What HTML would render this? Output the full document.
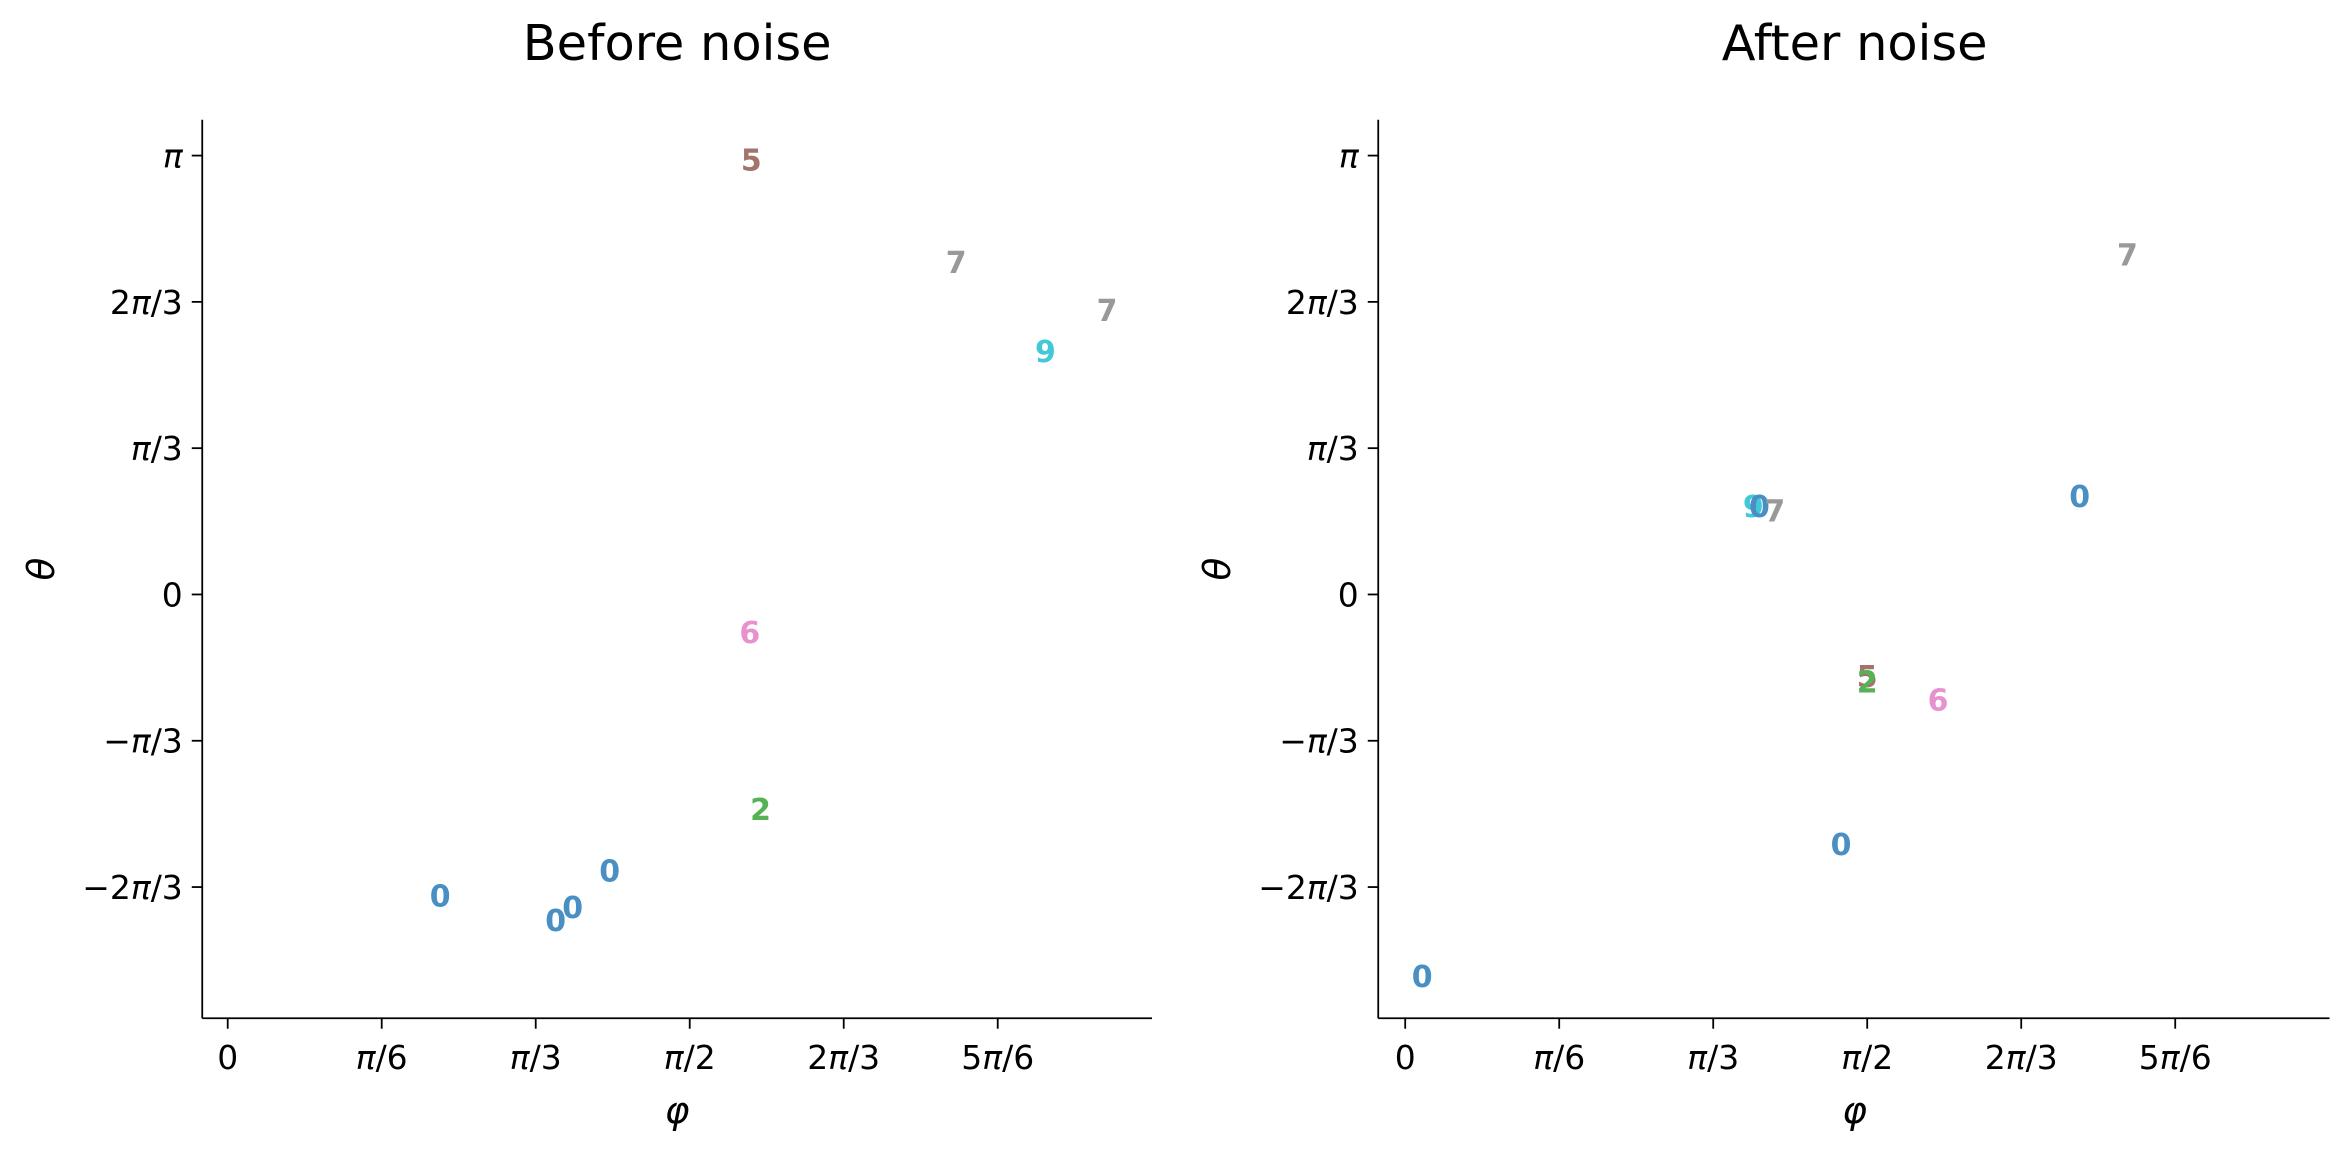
<!DOCTYPE html>
<html><head><meta charset="utf-8"><style>
html,body{margin:0;padding:0;background:#fff;}
svg text{font-family:"DejaVu Sans","Liberation Sans",sans-serif;}
</style></head><body>
<svg id="chart" width="2349" height="1150" viewBox="0 0 1568 768" preserveAspectRatio="none" xmlns="http://www.w3.org/2000/svg"></svg>
<script>
// values in units: x in π/6, y in π/3
const panelTitles = ["Before noise", "After noise"];
const xTickLabels = ["0", "π/6", "π/3", "π/2", "2π/3", "5π/6"];
const yTickLabels = ["π", "2π/3", "π/3", "0", "−π/3", "−2π/3"];
const yTickValues = [3, 2, 1, 0, -1, -2];
const beforeLabels = ["5", "7", "7", "9", "6", "2", "0", "0", "0", "0"];
const beforeX = [3.40, 4.73, 5.71, 5.31, 3.39, 3.46, 2.48, 1.38, 2.24, 2.13];
const beforeY = [2.97, 2.27, 1.94, 1.66, -0.26, -1.47, -1.89, -2.06, -2.14, -2.23];
const afterLabels = ["7", "0", "9", "0", "7", "5", "2", "6", "0", "0"];
const afterX = [4.69, 4.38, 2.26, 2.30, 2.40, 3.00, 3.00, 3.46, 2.83, 0.11];
const afterY = [2.32, 0.67, 0.60, 0.60, 0.57, -0.56, -0.60, -0.72, -1.71, -2.61];
const colors = {"0":"#4a8fc4","2":"#55b255","5":"#a3746b","6":"#e891cf","7":"#999999","9":"#42c9d8"};

const NS = "http://www.w3.org/2000/svg";
const svg = document.getElementById("chart");
function mk(tag, attrs, parent){const e=document.createElementNS(NS,tag);for(const k in attrs)e.setAttribute(k,attrs[k]);(parent||svg).appendChild(e);return e;}
function fillLabel(el, lab){
  lab.split(/(π)/).forEach(part => {
    if(!part) return;
    const ts = mk("tspan", part === "π" ? {"font-style":"italic"} : {}, el);
    ts.textContent = part;
  });
}

const panels = [{x0:152, left:135, right:769, cx:452, xs:beforeX, ys:beforeY, ls:beforeLabels},
                {x0:938, left:920, right:1555, cx:1238, xs:afterX, ys:afterY, ls:afterLabels}];
const xUnit = 102.8, yUnit = 97.7, yZero = 397, axTop = 80, axBottom = 680;

panels.forEach((p, pi) => {
  const g = mk("g", {});
  
  
  const X = v => p.x0 + v * xUnit;
  const Y = v => yZero - v * yUnit;
  const t = mk("text", {x:p.cx, y:40, "text-anchor":"middle", "font-size":33, fill:"#000"}, g);
  t.textContent = panelTitles[pi];
  
  
  const ys = mk("line", {x1:p.left, y1:axTop, x2:p.left, y2:axBottom, stroke:"#000", "stroke-width":1.2}, g);
  
  
  const xs = mk("line", {x1:p.left, y1:axBottom, x2:p.right, y2:axBottom, stroke:"#000", "stroke-width":1.2}, g);
  
  
  xTickLabels.forEach((lab, i) => {
    const x = X(i);
    mk("line", {x1:x, y1:axBottom, x2:x, y2:axBottom+7, stroke:"#000", "stroke-width":1.2}, g);
    const tl = mk("text", {x:x, y:axBottom+34, "text-anchor":"middle", "font-size":22, fill:"#000"}, g);
    fillLabel(tl, lab);
    
    
  });
  yTickLabels.forEach((lab, i) => {
    const y = Y(yTickValues[i]);
    mk("line", {x1:p.left-7, y1:y, x2:p.left, y2:y, stroke:"#000", "stroke-width":1.2}, g);
    const tl = mk("text", {x:p.left-13, y:y+8, "text-anchor":"end", "font-size":22, fill:"#000"}, g);
    fillLabel(tl, lab);
    
    
  });
  const xl = mk("text", {x:p.cx, y:750, "text-anchor":"middle", "font-size":25, "font-style":"italic", fill:"#000"}, g);
  xl.textContent = "φ";
  
  
  const yx = p.left - 99;
  const yl = mk("text", {x:yx, y:380, "text-anchor":"middle", "font-size":25, "font-style":"italic", fill:"#000", transform:`rotate(-90 ${yx} 380)`}, g);
  yl.textContent = "θ";
  
  
  p.ls.forEach((lab, i) => {
    const m = mk("text", {x:X(p.xs[i]), y:Y(p.ys[i])+7, "text-anchor":"middle", "font-size":20, "font-weight":"bold", fill:colors[lab]}, g);
    m.textContent = lab;
    
    
  });
});
</script>
</body></html>
